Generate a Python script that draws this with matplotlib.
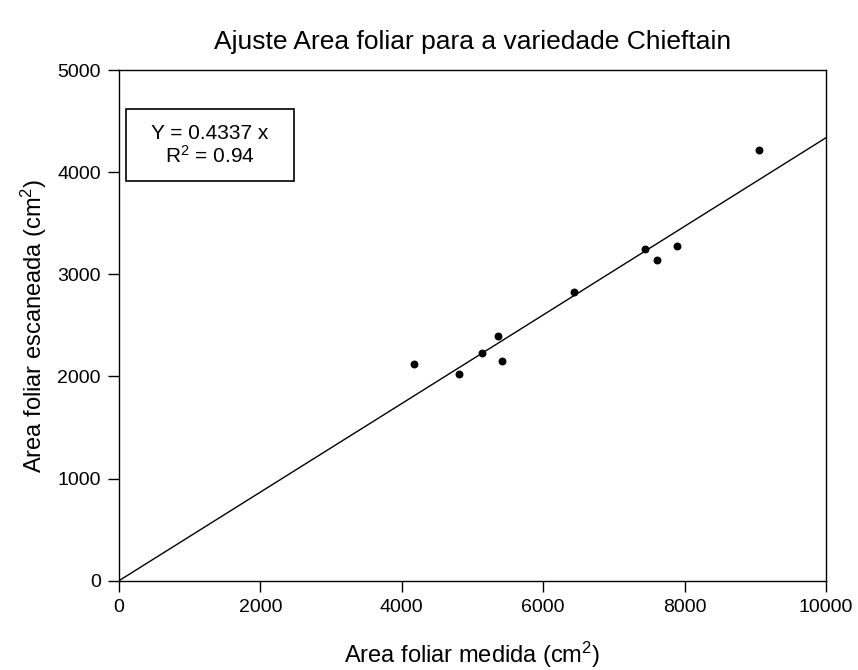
import numpy as np
import matplotlib
matplotlib.use("Agg")
import matplotlib.pyplot as plt
from matplotlib.patches import Rectangle

plt.rcParams['font.family'] = ['Liberation Sans', 'DejaVu Sans']
plt.rcParams['mathtext.fontset'] = 'custom'
plt.rcParams['mathtext.rm'] = 'Liberation Sans'
plt.rcParams['mathtext.default'] = 'regular'

# leaf area measured vs scanned (cm2)
area_medida = [4170, 4810, 5130, 5360, 5420, 6440, 7440, 7610, 7890, 9050]
area_escaneada = [2125, 2020, 2230, 2400, 2150, 2830, 3250, 3135, 3280, 4215]
slope = 0.4337
r2 = 0.94
fit_x = [0, 10000]

fig = plt.figure(figsize=(8.58, 6.70), dpi=100)
ax = fig.add_axes([0.1387, 0.1333, 0.8240, 0.7622])

ax.plot(fit_x, [slope * v for v in fit_x], color='black', lw=1.0)
ax.scatter(area_medida, area_escaneada, s=22, color='black', zorder=3)

ax.set_xlim(0, 10000)
ax.set_ylim(0, 5000)
ax.set_xticks(np.arange(0, 10001, 2000))
ax.set_yticks(np.arange(0, 5001, 1000))
ax.tick_params(direction='out', length=8, width=1, labelsize=14, pad=5)
for sp in ax.spines.values():
    sp.set_linewidth(1)

ax.set_title('Ajuste Area foliar para a variedade Chieftain', fontsize=19, pad=15)
ax.set_xlabel('Area foliar medida (cm$^2$)', fontsize=17, labelpad=17)
ax.set_ylabel('Area foliar escaneada (cm$^2$)', fontsize=17, labelpad=6)

# equation box
ax.add_patch(Rectangle((0.0099, 0.7827), 0.2376, 0.141, transform=ax.transAxes,
                       fill=False, edgecolor='black', lw=1.2, zorder=4))
ax.text(0.1287, 0.853, 'Y = %.4f x\nR$^2$ = %.2f' % (slope, r2), transform=ax.transAxes,
        ha='center', va='center', fontsize=15, linespacing=1.1)

fig.savefig('out.png', dpi=100)
